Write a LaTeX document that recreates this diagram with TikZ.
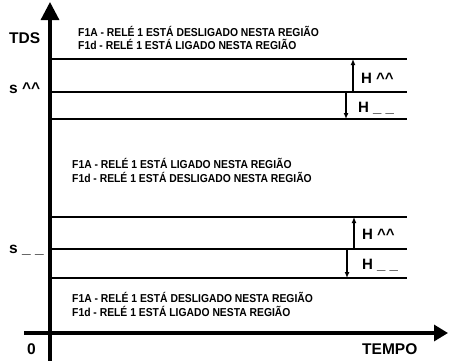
\documentclass[tikz,border=0pt]{standalone}
\usepackage{fontspec}
\setmainfont{Liberation Sans}
\newfontfamily\notefont[FakeStretch=0.9]{Liberation Sans}
\usetikzlibrary{arrows.meta}
\tikzset{
  axisline/.style={line width=3.2pt},
  lvl/.style={line width=1.5pt},
  slvl/.style={line width=2.1pt},
  harrow/.style={line width=1.2pt,-{Latex[length=6pt,width=5pt]}},
  note/.style={anchor=west,inner sep=0pt,font=\notefont\bfseries\fontsize{11.5}{12}\selectfont,align=left},
  biglab/.style={anchor=west,inner sep=0pt,font=\bfseries\fontsize{15.5}{17}\selectfont},
  hlab/.style={anchor=west,inner sep=0pt,font=\bfseries\fontsize{15}{17}\selectfont},
}
\begin{document}
\begin{tikzpicture}[x=1pt,y=-1pt]
\useasboundingbox (0,0) rectangle (449,360);
% axes
\coordinate (ybot) at (50,362);
\coordinate (ytop) at (50,2);
\coordinate (xl) at (24,333);
\coordinate (xr) at (448,333);
\draw[axisline,-{Triangle[length=18pt,width=18pt]}] (ybot) -- (ytop);
\draw[axisline,-{Triangle[length=14pt,width=16pt]}] (xl) -- (xr);
% level lines
\foreach \n/\y in {a/59,c/119,d/217,f/278}{
  \coordinate (\n1) at (52,\y); \coordinate (\n2) at (407,\y);
  \draw[lvl] (\n1) -- (\n2);
}
\foreach \n/\y in {b/92,e/249}{
  \coordinate (\n1) at (52,\y); \coordinate (\n2) at (407,\y);
  \draw[slvl] (\n1) -- (\n2);
}
% H arrows
\coordinate (h1s) at (353,92); \coordinate (h1e) at (353,59);
\coordinate (h2s) at (346,92); \coordinate (h2e) at (346,119);
\coordinate (h3s) at (354,249); \coordinate (h3e) at (354,217);
\coordinate (h4s) at (347,249); \coordinate (h4e) at (347,278);
\draw[harrow] (h1s) -- (h1e);
\draw[harrow] (h2s) -- (h2e);
\draw[harrow] (h3s) -- (h3e);
\draw[harrow] (h4s) -- (h4e);
\node[hlab] (Hu1) at (361,78) {H \textasciicircum\textasciicircum};
\node[hlab] (Hd1) at (358,108) {H \_ \_};
\node[hlab] (Hu2) at (362,234) {H \textasciicircum\textasciicircum};
\node[hlab] (Hd2) at (362,265) {H \_ \_};
% axis labels
\node[biglab] (tds) at (9,38) {TDS};
\node[biglab] (su) at (9,88) {s \textasciicircum\textasciicircum};
\node[biglab] (sd) at (9,250) {s \_ \_};
\node[biglab] (zero) at (27,349) {0};
\node[biglab] (tempo) at (362,349) {TEMPO};
% notes
\node[note] (n1a) at (78,31) {F1A - RELÉ 1 ESTÁ DESLIGADO NESTA REGIÃO};
\node[note] (n1b) at (78,44) {F1d - RELÉ 1 ESTÁ LIGADO NESTA REGIÃO};
\node[note] (n2a) at (72,163) {F1A - RELÉ 1 ESTÁ LIGADO NESTA REGIÃO};
\node[note] (n2b) at (72,177) {F1d - RELÉ 1 ESTÁ DESLIGADO NESTA REGIÃO};
\node[note] (n3a) at (72,297) {F1A - RELÉ 1 ESTÁ DESLIGADO NESTA REGIÃO};
\node[note] (n3b) at (72,311) {F1d - RELÉ 1 ESTÁ LIGADO NESTA REGIÃO};
\end{tikzpicture}
\end{document}
